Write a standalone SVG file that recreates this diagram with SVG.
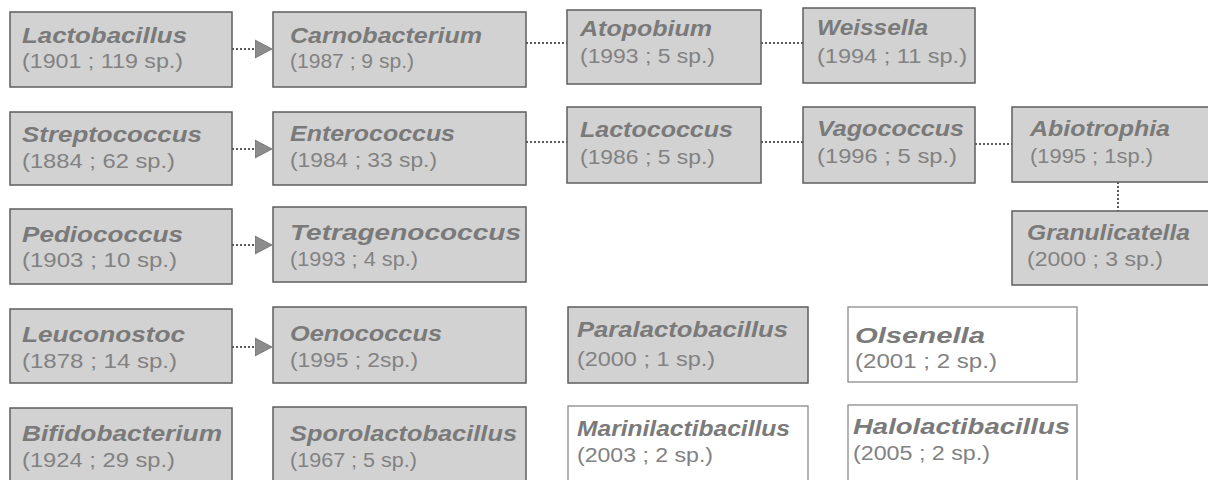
<svg xmlns="http://www.w3.org/2000/svg" width="1208" height="480" viewBox="0 0 1208 480">
<style>
  .box{fill:#d2d2d2;stroke:#5e5e5e;stroke-width:1.5}
  .wbox{fill:#ffffff;stroke:#8a8a8a;stroke-width:1.3}
  .nm{font-family:"Liberation Sans",Arial,sans-serif;font-size:22px;font-weight:bold;font-style:italic;fill:#7a7a7a}
  .dt{font-family:"Liberation Sans",Arial,sans-serif;font-size:19.5px;fill:#828282}
  .dot{fill:none;stroke:#5a5a5a;stroke-width:2;stroke-dasharray:2 2}
</style>
<defs>
  <marker id="ah" markerUnits="userSpaceOnUse" markerWidth="18" markerHeight="20" viewBox="0 0 18 20" refX="17" refY="10" orient="auto">
    <path d="M0,1 L17,10 L0,19 Z" fill="#8c8c8c" stroke="#6a6a6a" stroke-width="0.8"/>
  </marker>
</defs>
<rect width="1208" height="480" fill="#ffffff"/>

<g id="connectors">
  <path class="dot" d="M232,49 H272" marker-end="url(#ah)"/>
  <path class="dot" d="M232,149 H272" marker-end="url(#ah)"/>
  <path class="dot" d="M232,245 H272" marker-end="url(#ah)"/>
  <path class="dot" d="M232,347 H272" marker-end="url(#ah)"/>
  <path class="dot" d="M526,43 H567"/>
  <path class="dot" d="M761,43 H803"/>
  <path class="dot" d="M526,142 H567"/>
  <path class="dot" d="M761,142 H803"/>
  <path class="dot" d="M975,144 H1012"/>
  <path class="dot" d="M1118,182 V211"/>
</g>

<g id="lactobacillus"><rect class="box" x="10" y="12" width="222" height="75"/>
  <text class="nm" x="22" y="43" textLength="165" lengthAdjust="spacingAndGlyphs">Lactobacillus</text>
  <text class="dt" x="22" y="68" textLength="161" lengthAdjust="spacingAndGlyphs">(1901 ; 119 sp.)</text></g>
<g id="carnobacterium"><rect class="box" x="273" y="12" width="253" height="75"/>
  <text class="nm" x="290" y="43" textLength="192" lengthAdjust="spacingAndGlyphs">Carnobacterium</text>
  <text class="dt" x="290" y="68" textLength="124" lengthAdjust="spacingAndGlyphs">(1987 ; 9 sp.)</text></g>
<g id="atopobium"><rect class="box" x="567" y="10" width="194" height="74"/>
  <text class="nm" x="580" y="36" textLength="132" lengthAdjust="spacingAndGlyphs">Atopobium</text>
  <text class="dt" x="580" y="63" textLength="135" lengthAdjust="spacingAndGlyphs">(1993 ; 5 sp.)</text></g>
<g id="weissella"><rect class="box" x="803" y="8" width="172" height="75"/>
  <text class="nm" x="817" y="35" textLength="111" lengthAdjust="spacingAndGlyphs">Weissella</text>
  <text class="dt" x="817" y="63" textLength="150" lengthAdjust="spacingAndGlyphs">(1994 ; 11 sp.)</text></g>

<g id="streptococcus"><rect class="box" x="10" y="112" width="222" height="73"/>
  <text class="nm" x="22" y="142" textLength="180" lengthAdjust="spacingAndGlyphs">Streptococcus</text>
  <text class="dt" x="22" y="168" textLength="153" lengthAdjust="spacingAndGlyphs">(1884 ; 62 sp.)</text></g>
<g id="enterococcus"><rect class="box" x="273" y="112" width="253" height="73"/>
  <text class="nm" x="290" y="141" textLength="165" lengthAdjust="spacingAndGlyphs">Enterococcus</text>
  <text class="dt" x="290" y="167" textLength="147" lengthAdjust="spacingAndGlyphs">(1984 ; 33 sp.)</text></g>
<g id="lactococcus"><rect class="box" x="567" y="107" width="194" height="76"/>
  <text class="nm" x="580" y="137" textLength="153" lengthAdjust="spacingAndGlyphs">Lactococcus</text>
  <text class="dt" x="580" y="164" textLength="135" lengthAdjust="spacingAndGlyphs">(1986 ; 5 sp.)</text></g>
<g id="vagococcus"><rect class="box" x="803" y="107" width="172" height="76"/>
  <text class="nm" x="817" y="136" textLength="147" lengthAdjust="spacingAndGlyphs">Vagococcus</text>
  <text class="dt" x="817" y="163" textLength="140" lengthAdjust="spacingAndGlyphs">(1996 ; 5 sp.)</text></g>
<g id="abiotrophia"><rect class="box" x="1012" y="107" width="200" height="75"/>
  <text class="nm" x="1030" y="136" textLength="140" lengthAdjust="spacingAndGlyphs">Abiotrophia</text>
  <text class="dt" x="1030" y="163" textLength="123" lengthAdjust="spacingAndGlyphs">(1995 ; 1sp.)</text></g>
<g id="granulicatella"><rect class="box" x="1012" y="211" width="200" height="74"/>
  <text class="nm" x="1027" y="240" textLength="163" lengthAdjust="spacingAndGlyphs">Granulicatella</text>
  <text class="dt" x="1027" y="266" textLength="136" lengthAdjust="spacingAndGlyphs">(2000 ; 3 sp.)</text></g>

<g id="pediococcus"><rect class="box" x="10" y="209" width="222" height="75"/>
  <text class="nm" x="22" y="242" textLength="161" lengthAdjust="spacingAndGlyphs">Pediococcus</text>
  <text class="dt" x="22" y="267" textLength="155" lengthAdjust="spacingAndGlyphs">(1903 ; 10 sp.)</text></g>
<g id="tetragenococcus"><rect class="box" x="273" y="207" width="253" height="75"/>
  <text class="nm" x="290" y="240" textLength="231" lengthAdjust="spacingAndGlyphs">Tetragenococcus</text>
  <text class="dt" x="290" y="266" textLength="128" lengthAdjust="spacingAndGlyphs">(1993 ; 4 sp.)</text></g>

<g id="leuconostoc"><rect class="box" x="10" y="309" width="222" height="74"/>
  <text class="nm" x="22" y="342" textLength="163" lengthAdjust="spacingAndGlyphs">Leuconostoc</text>
  <text class="dt" x="22" y="368" textLength="155" lengthAdjust="spacingAndGlyphs">(1878 ; 14 sp.)</text></g>
<g id="oenococcus"><rect class="box" x="273" y="307" width="253" height="76"/>
  <text class="nm" x="290" y="341" textLength="152" lengthAdjust="spacingAndGlyphs">Oenococcus</text>
  <text class="dt" x="290" y="367" textLength="128" lengthAdjust="spacingAndGlyphs">(1995 ; 2sp.)</text></g>
<g id="paralactobacillus"><rect class="box" x="568" y="307" width="240" height="76"/>
  <text class="nm" x="577" y="337" textLength="211" lengthAdjust="spacingAndGlyphs">Paralactobacillus</text>
  <text class="dt" x="577" y="366" textLength="138" lengthAdjust="spacingAndGlyphs">(2000 ; 1 sp.)</text></g>
<g id="olsenella"><rect class="wbox" x="848" y="307" width="229" height="75"/>
  <text class="nm" x="855" y="343" textLength="130" lengthAdjust="spacingAndGlyphs">Olsenella</text>
  <text class="dt" x="855" y="368" textLength="142" lengthAdjust="spacingAndGlyphs">(2001 ; 2 sp.)</text></g>

<g id="bifidobacterium"><rect class="box" x="10" y="408" width="222" height="80"/>
  <text class="nm" x="22" y="441" textLength="200" lengthAdjust="spacingAndGlyphs">Bifidobacterium</text>
  <text class="dt" x="22" y="467" textLength="153" lengthAdjust="spacingAndGlyphs">(1924 ; 29 sp.)</text></g>
<g id="sporolactobacillus"><rect class="box" x="273" y="407" width="253" height="80"/>
  <text class="nm" x="290" y="441" textLength="227" lengthAdjust="spacingAndGlyphs">Sporolactobacillus</text>
  <text class="dt" x="290" y="467" textLength="127" lengthAdjust="spacingAndGlyphs">(1967 ; 5 sp.)</text></g>
<g id="marinilactibacillus"><rect class="wbox" x="568" y="406" width="240" height="80"/>
  <text class="nm" x="577" y="436" textLength="213" lengthAdjust="spacingAndGlyphs">Marinilactibacillus</text>
  <text class="dt" x="577" y="462" textLength="136" lengthAdjust="spacingAndGlyphs">(2003 ; 2 sp.)</text></g>
<g id="halolactibacillus"><rect class="wbox" x="848" y="405" width="229" height="80"/>
  <text class="nm" x="853" y="434" textLength="217" lengthAdjust="spacingAndGlyphs">Halolactibacillus</text>
  <text class="dt" x="853" y="460" textLength="137" lengthAdjust="spacingAndGlyphs">(2005 ; 2 sp.)</text></g>
</svg>
